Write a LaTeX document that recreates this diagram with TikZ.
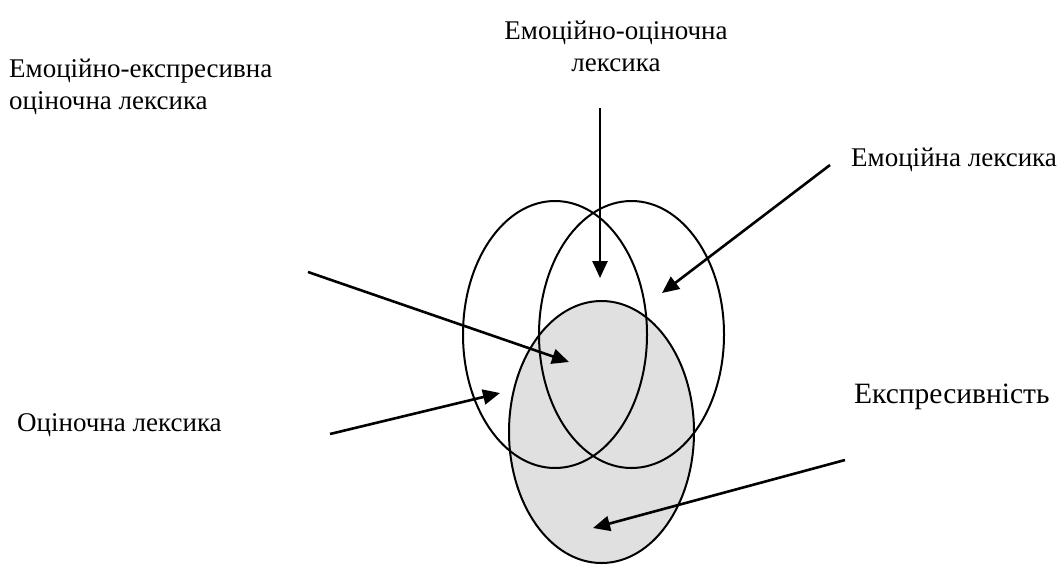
\documentclass[tikz,border=0pt]{standalone}
\usepackage{fontspec}
\setmainfont{Liberation Serif}
\usetikzlibrary{arrows.meta}
\definecolor{pale}{RGB}{224,224,224}
\begin{document}
\begin{tikzpicture}[x=1pt, y=-1pt, line join=round,
		label/.style={font=\fontsize{27}{32}\selectfont, inner sep=0pt},
		pointer/.style={line width=2.6pt, -{Triangle[length=17pt, width=15pt]}}]
	\useasboundingbox (0,0) rectangle (1062,565);
	
	% ellipses
	\coordinate (L) at (555, 334.5);
	\coordinate (R) at (631.5, 334.5);
	\coordinate (G) at (601.5, 432);
	\fill[pale] (G) ellipse [x radius=92.5, y radius=131];
	\draw[line width=2pt] (L) ellipse [x radius=92, y radius=133.5];
	\draw[line width=2pt] (R) ellipse [x radius=92.5, y radius=133.5];
	\draw[line width=2pt] (G) ellipse [x radius=92.5, y radius=131];
	
	% labels
	\node[label, align=center] (eo) at (616, 46) {Емоційно-оціночна\\лексика};
	\node[label, align=left, anchor=west] (eeo) at (9, 87) {Емоційно-експресивна\\оціночна лексика};
	\node[label, anchor=west] (em) at (851, 160) {Емоційна лексика};
	\node[label, anchor=west] (ol) at (17, 425) {Оціночна лексика};
	\node[label, anchor=west, font=\fontsize{29.5}{34}\selectfont] (ex) at (854, 397) {Експресивність};
	
	% arrows
	\coordinate (a1) at (600, 108);  \coordinate (t1) at (600, 278);
	\coordinate (a2) at (830, 165);  \coordinate (t2) at (662, 293);
	\coordinate (a3) at (308, 272);  \coordinate (t3) at (569, 362);
	\coordinate (a4) at (330, 434);  \coordinate (t4) at (500, 393);
	\coordinate (a5) at (845, 460);  \coordinate (t5) at (593, 528);
	\foreach \i in {1,...,5} {
		\draw[pointer] (a\i) -- (t\i);
	}
\end{tikzpicture}
\end{document}
